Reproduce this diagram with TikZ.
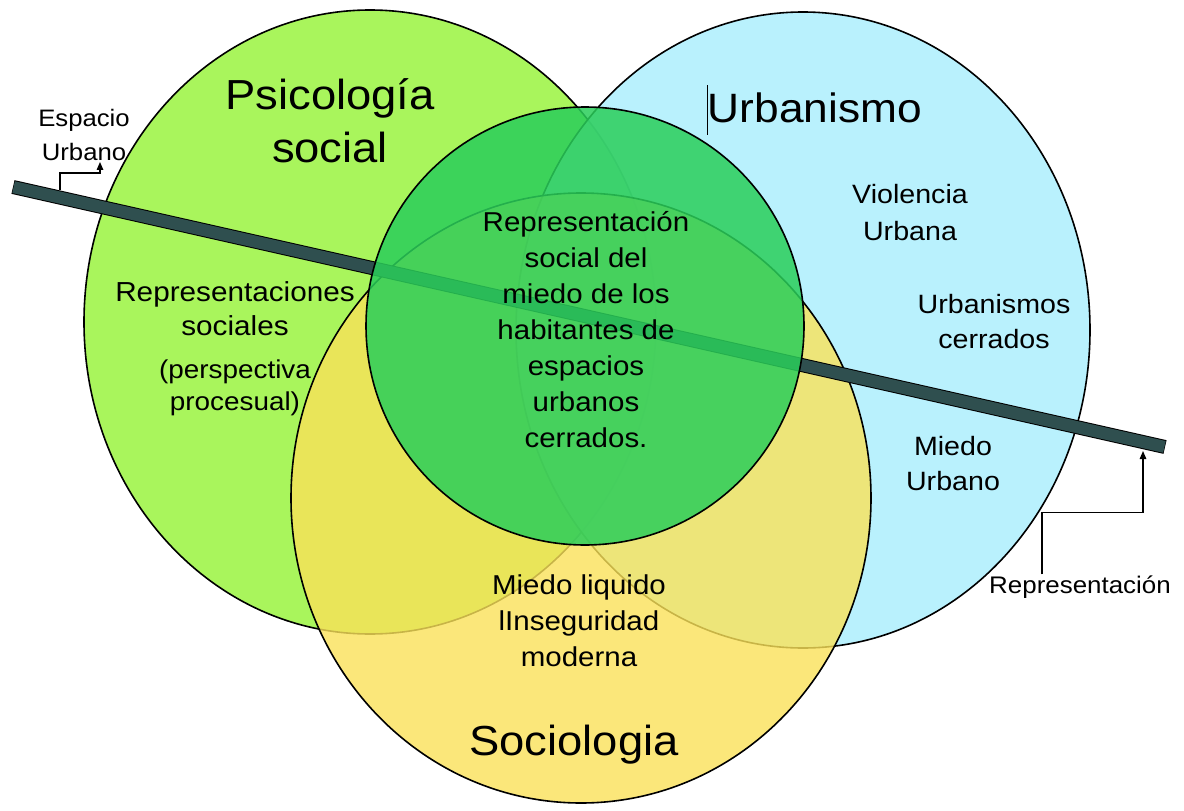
\documentclass[tikz,border=0pt]{standalone}
\usepackage{fontspec}
\setmainfont{Liberation Sans}[FakeStretch=1.08]
\usetikzlibrary{arrows.meta,calc}
\definecolor{cGreen}{RGB}{169,245,92}
\definecolor{cBlue}{RGB}{168,238,253}
\definecolor{cYellow}{RGB}{250,226,89}
\definecolor{cCore}{RGB}{42,206,90}
\definecolor{cBar}{RGB}{47,79,79}
\begin{document}
\begin{tikzpicture}[x=1pt,y=-1pt,
  outline/.style={draw=black,line width=1.6pt},
  title/.style={font=\fontsize{42}{53}\selectfont, align=center, inner sep=0pt},
  body/.style={align=center, inner sep=0pt},
  conn/.style={draw=black, line width=1.3pt, -{Triangle[length=8pt,width=6.5pt]}},
]
\useasboundingbox (0,0) rectangle (1184,811);
\fill[white] (0,0) rectangle (1184,811);
% sets
\draw[outline, fill=cGreen] (370,322) ellipse [x radius=286, y radius=312];
\draw[outline, fill=cBlue, fill opacity=0.8] (803,330) ellipse [x radius=287, y radius=318];
\draw[outline, fill=cYellow, fill opacity=0.8] (581,498) ellipse [x radius=290, y radius=305];
% bar
\coordinate (barL) at (13,187);
\coordinate (barR) at (1165,447);
\draw[line width=14pt, black] (barL) -- (barR);
\draw[line width=12pt, cBar] ($(barL)!0.6pt!(barR)$) -- ($(barR)!0.6pt!(barL)$);
% core
\draw[outline, fill=cCore, fill opacity=0.85] (585,326) circle [radius=219];
% titles
\node[title] (psi) at (330,121) {Psicología\\social};
\node[title, font=\fontsize{41}{53}\selectfont] (urb) at (815,108) {Urbanismo};
\draw[line width=0.9pt] (707,85) -- (707,135);
\node[title] (soc) at (574,745) {Sociologia};
% texts
\node[body, font=\fontsize{27.3}{36}\selectfont] (core) at (586,330) {Representación\\social del\\miedo de los\\habitantes de\\espacios\\urbanos\\cerrados.};
\node[body, font=\fontsize{27.5}{34}\selectfont] (rs) at (235,309) {Representaciones\\sociales};
\node[body, font=\fontsize{25.8}{32}\selectfont] (pp) at (235,388) {(perspectiva\\procesual)};
\node[body, font=\fontsize{26.5}{37}\selectfont] (vu) at (910,213) {Violencia\\Urbana};
\node[body, font=\fontsize{26.5}{35}\selectfont] (uc) at (994,322) {Urbanismos\\cerrados};
\node[body, font=\fontsize{26.5}{35}\selectfont] (mu) at (953,464) {Miedo\\Urbano};
\node[body, font=\fontsize{27.3}{36}\selectfont] (ml) at (579,621) {Miedo liquido\\lInseguridad\\moderna};
\node[body, font=\fontsize{23.8}{34}\selectfont, inner sep=1pt] (esp) at (84,135) {Espacio\\Urbano};
\node[body, font=\fontsize{24}{30}\selectfont, inner sep=1pt] (rep) at (1080,587) {Representación};
% connectors
\coordinate (espBar) at (60,190);
\coordinate (repBar) at (1143,451);
\draw[conn] (espBar) -- ++(0,-17) -| ([xshift=16pt]esp.south);
\draw[conn] ([xshift=-38pt]rep.north) -- ++(0,-62) -| (repBar);
\end{tikzpicture}
\end{document}
